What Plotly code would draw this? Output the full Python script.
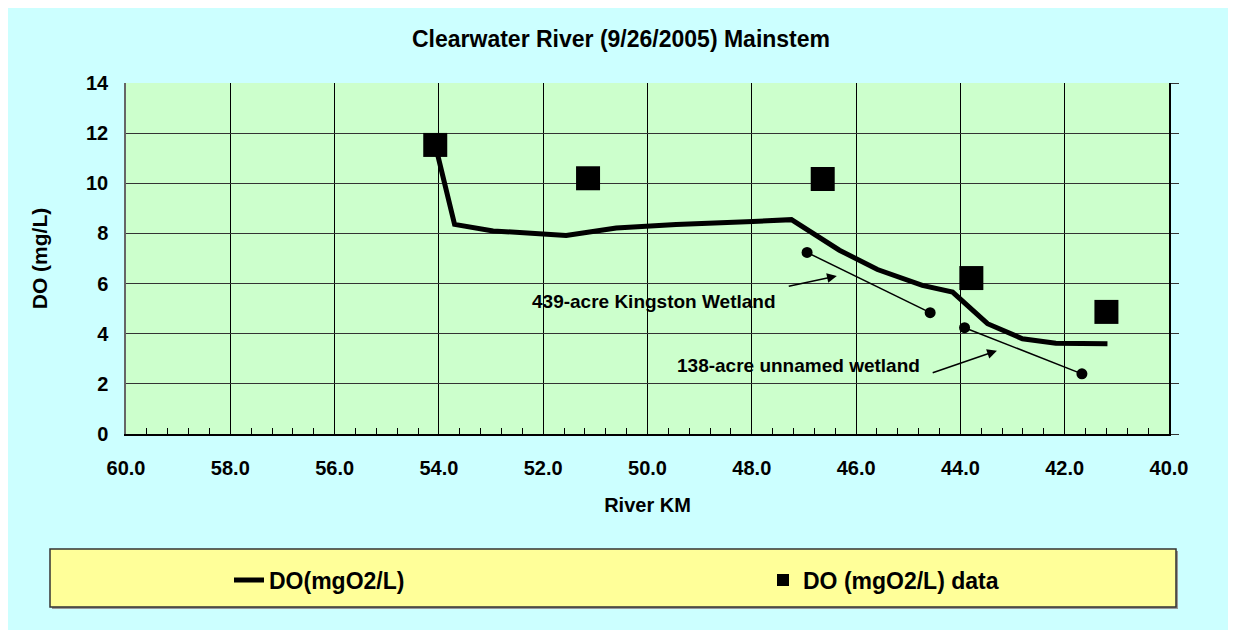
import plotly.graph_objects as go

# ---- data ----
model_km = [54.07, 53.70, 52.96, 52.00, 51.56, 50.60, 49.45, 47.98, 47.24, 46.32, 45.59, 44.73, 44.15, 43.48, 42.81, 42.17, 41.18]
model_do = [11.53, 8.36, 8.10, 7.95, 7.92, 8.22, 8.36, 8.48, 8.55, 7.33, 6.56, 5.93, 5.66, 4.40, 3.80, 3.62, 3.60]

data_km = [54.07, 51.14, 46.64, 43.79, 41.20]
data_do = [11.53, 10.20, 10.17, 6.22, 4.87]

# annotation guide lines (dot to dot)
kingston_km = [46.94, 44.58]
kingston_do = [7.24, 4.84]
unnamed_km = [43.92, 41.67]
unnamed_do = [4.24, 2.40]

# arrows: (tail_km, tail_do, head_km, head_do)
kingston_arrow = [47.32, 5.88, 46.37, 6.30]
unnamed_arrow = [44.56, 2.42, 43.30, 3.32]

kingston_label = "439-acre Kingston Wetland"
unnamed_label = "138-acre unnamed wetland"
kingston_label_pos = [47.49, 5.28]
unnamed_label_pos = [44.74, 2.75]

x_ticks = [60, 58, 56, 54, 52, 50, 48, 46, 44, 42, 40]
y_ticks = [0, 2, 4, 6, 8, 10, 12, 14]

FONT = "Liberation Sans, Arial, sans-serif"
OFF = 8  # page body margin

fig = go.Figure()

fig.add_trace(go.Scatter(
    x=model_km, y=model_do, mode="lines", name="DO(mgO2/L)",
    line=dict(color="black", width=5), legend="legend",
))
fig.add_trace(go.Scatter(
    x=data_km, y=data_do, mode="markers", name="DO (mgO2/L) data",
    marker=dict(symbol="square", size=24, color="black"), legend="legend2",
))
for gx, gy in [(kingston_km, kingston_do), (unnamed_km, unnamed_do)]:
    fig.add_trace(go.Scatter(
        x=gx, y=gy, mode="lines+markers", showlegend=False, hoverinfo="skip",
        line=dict(color="black", width=1.5),
        marker=dict(symbol="circle", size=11, color="black"),
    ))
# invisible trace for the right-hand axis
fig.add_trace(go.Scatter(x=[50], y=[0], yaxis="y2", mode="markers",
                         marker=dict(opacity=0), showlegend=False, hoverinfo="skip"))

annotations = []
for arr in (kingston_arrow, unnamed_arrow):
    annotations.append(dict(
        x=arr[2], y=arr[3], ax=arr[0], ay=arr[1], xref="x", yref="y",
        axref="x", ayref="y", text="", showarrow=True,
        arrowhead=2, arrowsize=1.3, arrowwidth=1.5, arrowcolor="black",
    ))
for txt, pos in ((kingston_label, kingston_label_pos), (unnamed_label, unnamed_label_pos)):
    annotations.append(dict(
        x=pos[0], y=pos[1], xref="x", yref="y", text="<b>%s</b>" % txt,
        showarrow=False, xanchor="right", yanchor="middle",
        font=dict(family=FONT, size=19, color="black"),
    ))

W, H = 1236 - OFF, 630 - OFF
L, R, T, B = 126 - OFF, 67, 83 - OFF, 196
pw, ph = W - L - R, H - T - B


def px_x(p):
    return (p - OFF - L) / pw


def px_y(p):
    return (H - B - (p - OFF)) / ph


shapes = [
    # legend box shadow and box
    dict(type="rect", xref="paper", yref="paper", x0=px_x(52), x1=px_x(1178),
         y0=px_y(609), y1=px_y(551), fillcolor="#999999", line=dict(width=0), layer="below"),
    dict(type="rect", xref="paper", yref="paper", x0=px_x(50), x1=px_x(1176),
         y0=px_y(607), y1=px_y(549), fillcolor="#FFFF99",
         line=dict(color="#333333", width=1.5), layer="below"),
]

tickfont = dict(family=FONT, size=20, color="black", weight="bold")
legfont = dict(family=FONT, size=23, color="black", weight="bold")

fig.update_layout(
    width=W, height=H,
    margin=dict(l=L, r=R, t=T, b=B),
    paper_bgcolor="#CCFFFF", plot_bgcolor="#CCFFCC",
    font=dict(family=FONT, color="black"),
    title=dict(text="<b>Clearwater River (9/26/2005) Mainstem</b>",
               x=(621 - OFF) / W, xref="container", xanchor="center",
               y=1 - (39 - OFF) / H, yref="container", yanchor="middle",
               font=dict(family=FONT, size=23, color="black")),
    xaxis=dict(
        range=[60, 40], tickvals=x_ticks, tickformat=".1f",
        showgrid=True, gridcolor="black", gridwidth=1,
        showline=True, linecolor="black", linewidth=1.5, mirror=False,
        ticks="inside", ticklen=6, tickcolor="black",
        minor=dict(dtick=0.4, ticks="inside", ticklen=6, tickcolor="black", showgrid=False),
        tickfont=tickfont,
        ticklabelstandoff=15,
        title=dict(text="<b>River KM</b>", font=dict(family=FONT, size=20, color="black"),
                   standoff=20),
        zeroline=False,
    ),
    yaxis=dict(
        range=[0, 14], tickvals=y_ticks,
        showgrid=True, gridcolor="#333333", gridwidth=1,
        showline=True, linecolor="#666666", linewidth=1.5,
        ticks="", tickfont=tickfont,
        ticklabelstandoff=12,
        title=dict(text="<b>DO (mg/L)</b>", font=dict(family=FONT, size=21, color="black"),
                   standoff=33),
        zeroline=False,
    ),
    yaxis2=dict(
        range=[0, 14], tickvals=y_ticks, overlaying="y", side="right",
        showgrid=False, showticklabels=False, showline=True,
        linecolor="black", linewidth=2, ticks="outside", ticklen=8,
        tickcolor="#333333", zeroline=False,
    ),
    legend=dict(
        orientation="h", x=px_x(229), xanchor="left", y=px_y(580), yanchor="middle",
        bgcolor="rgba(0,0,0,0)", borderwidth=0, itemsizing="constant", font=legfont,
    ),
    legend2=dict(
        orientation="h", x=px_x(763), xanchor="left", y=px_y(580), yanchor="middle",
        bgcolor="rgba(0,0,0,0)", borderwidth=0, itemsizing="constant", font=legfont,
    ),
    shapes=shapes,
    annotations=annotations,
    showlegend=True,
)

fig.write_html("out.html")
